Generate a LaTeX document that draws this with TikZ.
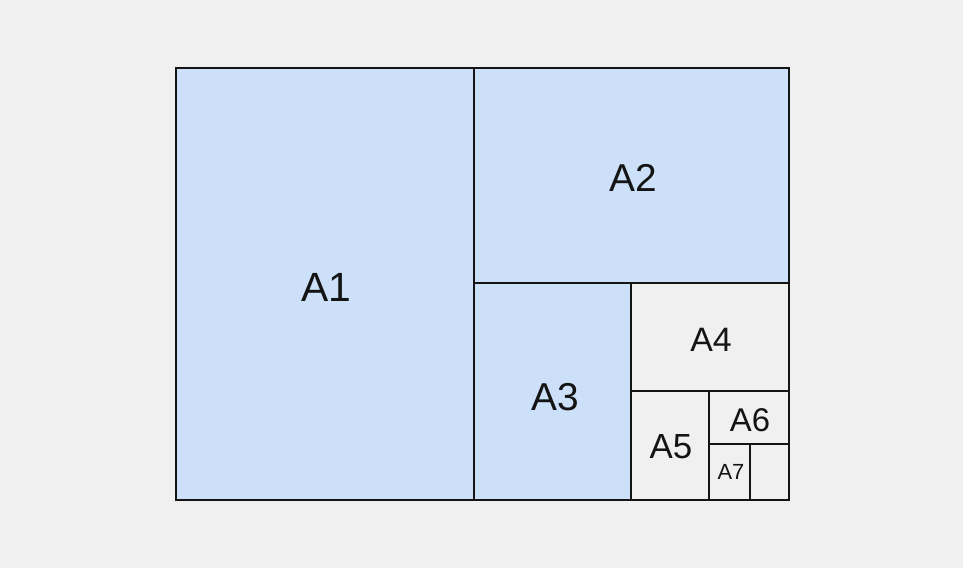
\documentclass[tikz,border=0pt]{standalone}
\usepackage{fontspec}
\setmainfont{Liberation Sans}
\definecolor{bg}{HTML}{F0F0F0}
\definecolor{paper}{HTML}{CCE0FA}
\definecolor{ink}{HTML}{141414}
\tikzset{
  sheet/.style={draw=ink, line width=2bp},
  lbl/.style={inner sep=0pt, text=ink},
}
\begin{document}
\begin{tikzpicture}[x=1bp,y=-1bp]
\fill[bg] (0,0) rectangle (963,568);
\useasboundingbox (0,0) rectangle (963,568);
\fill[paper] (176,68) rectangle (631,500);
\fill[paper] (474,68) rectangle (789,283);
\draw[sheet] (176,68) rectangle (789,500);
\draw[sheet] (474,68) -- (474,500);
\draw[sheet] (474,283) -- (789,283);
\draw[sheet] (631,283) -- (631,500);
\draw[sheet] (631,391) -- (789,391);
\draw[sheet] (709,391) -- (709,500);
\draw[sheet] (709,444) -- (789,444);
\draw[sheet] (750,444) -- (750,500);
\node[lbl, font=\fontsize{41}{41}\selectfont] (a1) at (326,287) {A1};
\node[lbl, font=\fontsize{39}{39}\selectfont] (a2) at (633,178) {A2};
\node[lbl, font=\fontsize{39}{39}\selectfont] (a3) at (555,397) {A3};
\node[lbl, font=\fontsize{34}{34}\selectfont] (a4) at (711,340) {A4};
\node[lbl, font=\fontsize{35}{35}\selectfont] (a5) at (671,447) {A5};
\node[lbl, font=\fontsize{33}{33}\selectfont] (a6) at (750,420) {A6};
\node[lbl, font=\fontsize{22}{22}\selectfont] (a7) at (731,472) {A7};
\end{tikzpicture}
\end{document}
